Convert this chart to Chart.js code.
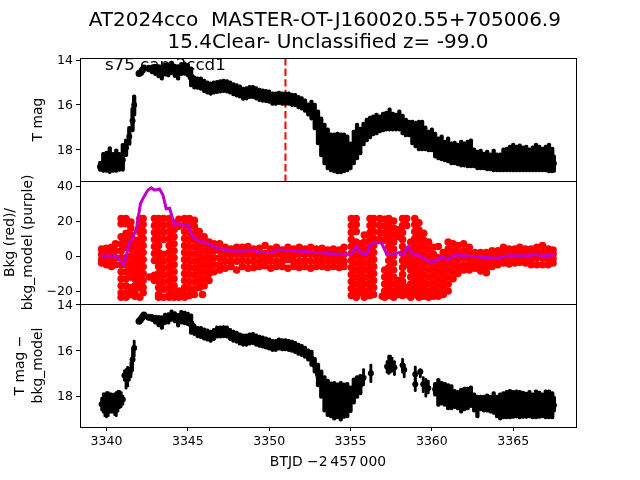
<!DOCTYPE html>
<html>
<head>
<meta charset="utf-8">
<title>AT2024cco</title>
<script src="https://cdn.jsdelivr.net/npm/chart.js@4"></script>
<style>
  html, body { margin: 0; padding: 0; background: #fff; }
  canvas { display: block; }
</style>
</head>
<body>
<canvas id="lc" width="640" height="480"></canvas>
<script>
'use strict';

const titleLines = ['AT2024cco  MASTER-OT-J160020.55+705006.9 ', '15.4Clear- Unclassified z= -99.0'];
const sectorLabel = 's75 cam2ccd1';
const xTitle = 'BTJD \u22122\u2009457\u2009000';
const xTicks = [3340, 3345, 3350, 3355, 3360, 3365];
const magTicks = [14, 16, 18];
const bkgTicks = [40, 20, 0, -20];
const markerTime = [3351, 3351];

// top panel, narrow part of the light curve
const topX = [3342.0, 3342.1, 3342.2, 3342.3, 3342.6, 3342.8, 3343.0, 3343.2, 3343.4, 3343.6, 3343.8, 3344.0, 3344.2, 3344.4, 3344.6, 3344.8, 3345.0, 3345.2, 3345.4, 3345.6, 3345.8, 3346.0, 3346.2, 3346.4, 3346.6, 3346.8, 3347.0, 3347.2, 3347.4, 3347.6, 3347.8, 3348.0, 3348.2, 3348.4, 3348.6, 3348.8, 3349.0, 3349.2, 3349.4, 3349.6, 3349.8, 3350.0, 3350.2, 3350.4, 3350.6, 3350.8, 3351.0, 3351.2, 3351.4, 3351.6, 3351.8, 3352.0, 3352.2, 3352.4];
const topMag = [14.6, 14.55, 14.45, 14.35, 14.38, 14.42, 14.45, 14.5, 14.55, 14.42, 14.45, 14.35, 14.48, 14.55, 14.4, 14.38, 14.45, 14.75, 15.0, 15.03, 15.05, 15.15, 15.22, 15.27, 15.22, 15.2, 15.17, 15.15, 15.17, 15.22, 15.3, 15.35, 15.4, 15.5, 15.48, 15.42, 15.42, 15.48, 15.55, 15.58, 15.6, 15.63, 15.72, 15.72, 15.68, 15.72, 15.72, 15.72, 15.77, 15.78, 15.87, 15.93, 16.03, 16.2];
const topErr = [0.1, 0.1, 0.1, 0.1, 0.15, 0.2, 0.25, 0.3, 0.35, 0.3, 0.3, 0.3, 0.3, 0.35, 0.3, 0.3, 0.3, 0.45, 0.3, 0.28, 0.3, 0.3, 0.3, 0.3, 0.3, 0.3, 0.3, 0.3, 0.3, 0.3, 0.3, 0.3, 0.3, 0.3, 0.3, 0.3, 0.3, 0.3, 0.3, 0.3, 0.3, 0.3, 0.3, 0.3, 0.3, 0.3, 0.3, 0.3, 0.3, 0.3, 0.3, 0.3, 0.3, 0.3];

// top panel, noisy parts: value, bright end and faint end of the error bar
const topNoisyX = [3339.6, 3339.8, 3340.0, 3340.2, 3340.4, 3340.6, 3340.8, 3341.0, 3341.2, 3341.4, 3341.6, 3341.7, 3352.6, 3352.8, 3353.0, 3353.2, 3353.4, 3353.6, 3353.8, 3354.0, 3354.2, 3354.4, 3354.6, 3354.8, 3355.0, 3355.2, 3355.4, 3355.6, 3355.8, 3356.0, 3356.2, 3356.4, 3356.6, 3356.8, 3357.0, 3357.2, 3357.4, 3357.6, 3357.8, 3358.0, 3358.2, 3358.4, 3358.6, 3358.8, 3359.0, 3359.2, 3359.4, 3359.6, 3359.8, 3360.0, 3360.2, 3360.4, 3360.6, 3360.8, 3361.0, 3361.2, 3361.4, 3361.6, 3361.8, 3362.0, 3362.2, 3362.4, 3362.6, 3362.8, 3363.0, 3363.2, 3363.4, 3363.6, 3363.8, 3364.0, 3364.2, 3364.4, 3364.6, 3364.8, 3365.0, 3365.2, 3365.4, 3365.6, 3365.8, 3366.0, 3366.2, 3366.4, 3366.6, 3366.8, 3367.0, 3367.2, 3367.4, 3367.5];
const topNoisyMag = [18.75, 18.6, 18.55, 18.5, 18.55, 18.5, 18.55, 18.45, 17.9, 17.4, 16.7, 16.0, 16.2, 16.5, 17.0, 17.4, 17.8, 18.0, 18.1, 18.2, 18.2, 18.2, 18.15, 18.15, 18.2, 18.0, 17.7, 17.6, 17.3, 17.1, 17.0, 16.9, 16.85, 16.85, 16.8, 16.75, 16.7, 16.75, 16.75, 16.75, 16.85, 17.0, 17.05, 17.15, 17.3, 17.4, 17.45, 17.5, 17.55, 17.55, 17.7, 17.9, 17.9, 18.0, 18.0, 18.1, 18.1, 18.15, 18.15, 18.2, 18.2, 18.2, 18.35, 18.4, 18.4, 18.45, 18.45, 18.5, 18.5, 18.5, 18.5, 18.5, 18.5, 18.45, 18.45, 18.5, 18.45, 18.5, 18.5, 18.5, 18.45, 18.45, 18.5, 18.5, 18.45, 18.45, 18.5, 18.6];
const topNoisyUp = [18.5, 18.1, 18.05, 17.85, 18.1, 17.95, 18.1, 17.7, 17.5, 16.95, 16.1, 15.55, 15.78, 15.91, 16.22, 16.53, 16.8, 17.02, 17.24, 17.24, 17.2, 17.24, 17.24, 17.33, 17.64, 17.11, 16.8, 16.98, 16.76, 16.58, 16.49, 16.44, 16.36, 16.44, 16.31, 16.27, 16.13, 16.31, 16.36, 16.22, 16.4, 16.58, 16.67, 16.67, 16.71, 16.67, 16.67, 16.93, 17.11, 17.02, 17.2, 17.42, 17.33, 17.56, 17.42, 17.64, 17.6, 17.69, 17.56, 17.64, 17.56, 17.51, 17.91, 18.0, 17.96, 18.09, 18.0, 18.13, 17.96, 18.13, 18.13, 17.91, 17.87, 17.78, 17.69, 17.78, 17.73, 17.82, 17.78, 17.91, 17.82, 17.69, 17.78, 17.87, 17.78, 17.69, 17.87, 18.22];
const topNoisyDn = [18.95, 19.0, 19.0, 19.05, 19.0, 19.0, 18.95, 18.95, 18.3, 17.8, 17.2, 16.5, 16.67, 17.11, 17.78, 18.31, 18.67, 18.89, 18.98, 19.02, 19.07, 19.07, 19.02, 18.98, 18.89, 18.67, 18.44, 18.22, 17.82, 17.64, 17.51, 17.38, 17.33, 17.24, 17.2, 17.16, 17.16, 17.16, 17.16, 17.16, 17.33, 17.42, 17.42, 17.78, 17.91, 18.04, 18.04, 18.04, 18.09, 18.09, 18.36, 18.44, 18.49, 18.53, 18.58, 18.67, 18.67, 18.71, 18.76, 18.76, 18.8, 18.8, 18.8, 18.89, 18.89, 18.89, 18.93, 18.93, 18.98, 18.98, 18.98, 18.98, 18.98, 18.98, 18.98, 18.98, 18.98, 18.98, 18.98, 18.98, 18.98, 18.98, 18.98, 18.98, 18.98, 19.02, 19.02, 19.0];

// middle panel, background counts, one list of values per time column
const bkgX = [3339.7, 3340.0, 3340.3, 3340.55, 3340.9, 3341.2, 3341.5, 3341.75, 3342.05, 3342.25, 3342.65, 3342.95, 3343.2, 3343.5, 3343.85, 3344.15, 3344.45, 3344.8, 3345.1, 3345.4, 3345.7, 3345.9, 3346.0, 3346.3, 3346.6, 3346.95,
  3347.3, 3347.65, 3348.0, 3348.35, 3348.7, 3349.05, 3349.4, 3349.75, 3350.1, 3350.45, 3350.8, 3351.15, 3351.5, 3351.85, 3352.2, 3352.55, 3352.9, 3353.25, 3353.6, 3353.95, 3354.3, 3354.6,
  3355.05, 3355.35, 3355.65, 3355.85, 3356.2, 3356.42, 3356.8, 3356.95, 3357.1, 3357.35, 3357.65, 3357.95, 3358.2, 3358.45, 3358.7, 3358.95, 3359.2, 3359.5, 3359.8, 3360.1, 3360.4, 3360.7, 3361.0, 3361.3, 3361.6, 3361.95,
  3362.3, 3362.65, 3363.0, 3363.35, 3363.7, 3364.05, 3364.4, 3364.75, 3365.1, 3365.4, 3365.75, 3366.1, 3366.45, 3366.8, 3367.15, 3367.45];
const bkgY = [
  [4, 1, -2, -4], [4.5, 1, -2, -5], [5, 2, -1, -4, -6], [7, 3, -1, -5],
  [21.5, 18.5, 11, 7, 3, -1, -5, -9, -13, -17, -21, -23.5],
  [21.5, 18.5, 13, 9, 5, -1, -5, -9, -13, -17, -21, -23.5],
  [19.5, 16, 12, 8, 4, 0, -4, -8, -12, -18, -22],
  [9, 6, 3, -1, -5, -9, -13, -17, -21, -23],
  [21.5, 17.5, 13.5, 9.5, 5.5, 1.5, -2.5, -6.5, -10.5, -14.5, -18, -23.5],
  [21.5, 18, 14, 10, 6, 2, -2, -6, -10, -14, -18, -21],
  [-12],
  [21.5, 17.5, 13.5, 9.5, 5.5, 1.5, -2.5, -11, -14],
  [21.5, 18, 14, 10, 6, 2, -2, -6, -10, -14, -18, -22, -23.5],
  [21.5, 17.5, 13.5, 9.5, 1, -3, -7, -11, -15, -19, -23.5],
  [21.5, 18, 14, 10, 6, 2, -2, -6, -10, -14, -18, -22, -23.5],
  [19, 15, 11, 7, 3, -1, -5, -9, -13, -17, -21, -23.5],
  [21, 17, -20, -23.5],
  [21.5, 18, 14, 10, 6, 2, -2, -6, -10, -14, -18, -22, -23.5],
  [21.5, 17.5, 13.5, 9.5, 5.5, 1.5, -2.5, -6.5, -10.5, -14.5, -18.5, -22.5],
  [20.5, 17, 13, 9, 5, 1, -3, -7, -11, -15, -19, -22],
  [14, 10, 6, 2, -2, -6, -10, -14, -18],
  [-22],
  [11, 7, 3, -1, -5, -9, -13, -17],
  [8, 5, 2, -2, -6, -10, -14],
  [7, 3, -1, -5, -9],
  [7, 3, -1, -5, -8],
  [5, 1, -3, -7], [4, 0.5, -3, -6], [5, 1, -3, -8], [5, 1.5, -2, -6], [5.5, 1, -3, -7], [4, 0.5, -3, -6.5], [4.5, 1, -2.5, -6], [6, 1.5, -2, -5.5], [4, 0.5, -3, -7], [5, 1, -3, -6], [3.5, 0.5, -3, -6], [5, 1.5, -2, -7], [4, 0.5, -3, -6], [5, 1, -3, -6.5], [4, 1, -2.5, -6], [5, 1, -3, -7], [4, 0.5, -3, -6], [4.5, 1, -2.5, -6], [3.5, 0.5, -3, -6.5], [4, 1, -2.5, -6], [3.5, 0, -3, -6.5], [5, 1, -3, -6],
  [21.5, 17.5, 13.5, 9.5, 5.5, 1.5, -2.5, -6.5, -10.5, -14.5, -18.5, -22.5],
  [21.5, 18, 14, 8, 4, 0, -4, -8, -12, -16, -20, -23.5],
  [7, 3, -1, -5, -9, -13, -17, -21],
  [12, 8, 4, 0, -4, -8, -12, -16, -20, -23.5],
  [21.5, 17.5, 13.5, 9.5, 5.5, 1.5, -2.5, -6.5, -10.5, -14.5, -18.5, -22.5],
  [21.5, 18, 14, 10, 6, 2, -2, -6, -10, -14, -18, -22],
  [21.5, 17.5, 13.5, 9.5],
  [-23],
  [21, 17, 13, 9, -8, -12, -16, -20, -23.5],
  [21.5, 17.5, 13.5, 9.5, 5.5, 1.5, -2.5, -6.5, -10.5, -14.5, -18.5, -22.5],
  [20, 16, 12, 8, 4, 0, -4, -8, -12, -16, -20, -23.5],
  [15, 11, -14, -18, -22],
  [21.5, 17.5, 13.5, 9.5, 5.5, 1.5, -2.5, -6.5, -10.5, -14.5, -18.5, -22.5],
  [21.5, 17.5, 3, -1, -5, -18, -22],
  [8, 4, 0, -4, -8, -12, -16, -20, -23.5],
  [21.5, 18, 14, 10, 6, 2, -2, -6, -10, -14, -18, -22],
  [19, 15, 11, 7, 3, -1, -5, -9, -13, -17, -21, -23.5],
  [13, 9, 5, 1, -3, -7, -11, -15, -19, -23],
  [8, 4, 0, -4, -8, -12, -16, -20, -23.5],
  [5, 1, -3, -7, -11, -15, -19, -23],
  [5.5, -1, -5, -9, -13, -17, -21, -23],
  [2, -2, -6, -10, -14, -18, -22],
  [8, 4, 0, -4, -8, -12, -16, -20],
  [7, 3, -1, -5, -9, -13],
  [6, 2, -2, -6, -10],
  [7, 3, -1, -5, -8],
  [5, 1.5, -2, -5.5, -8], [2, -1, -4, -7], [2, -1, -4, -7, -8.5], [2, -1, -4, -7, -9.5], [3, 0, -3, -6], [3, 0, -3, -5], [5, 2, -1, -4], [4, 1, -2, -4.5], [4, 1, -2, -4], [5, 2, -1, -3.5], [4, 1, -2, -4], [4, 1, -2, -5], [5, 2, -1, -5], [6, 2, -1, -5], [4, 1, -2, -5], [3.5, 1, -1.5, -4]
];

// middle panel, background model
const modelX = [3339.69, 3340.6, 3340.86, 3341.05, 3341.22, 3341.43, 3341.6, 3341.84, 3342.09, 3342.25, 3342.55, 3342.75, 3342.95, 3343.26, 3343.47, 3343.67, 3343.88, 3344.18, 3344.39, 3344.69, 3345.0, 3345.3, 3345.71, 3346.33, 3346.74, 3347.76, 3348.38, 3348.99, 3349.4, 3350.2, 3350.45, 3351.9, 3352.7, 3353.11, 3354.13, 3355.06, 3355.36, 3355.67, 3356.0, 3356.2, 3356.49, 3356.9, 3357.21, 3357.52, 3358.03, 3358.23, 3358.54, 3358.85, 3359.15, 3359.77, 3360.18, 3360.59, 3361.0, 3361.41, 3362.74, 3363.97, 3364.69, 3366.0, 3366.43, 3366.74, 3367.55];
const modelY = [0, 0, -3.2, -5, 0.6, 8.2, 10, 15.8, 30, 33, 37.7, 39, 37.7, 38.3, 34.9, 27, 27.3, 17.7, 18.7, 17.7, 17.7, 11, 8.6, 6.7, 4.8, 2.9, 2.9, 3.4, 2.1, 2.1, 3.4, 2.9, 2.1, 2.1, 1, 1, 5.3, 1.5, 1, 6.3, 7.6, 7.6, 1.5, 0.6, 2.1, 0.6, 5.3, 0.6, 0.6, -2.8, -3.2, -0.4, -1.9, 0.6, -0.4, -1.3, 0.2, 0.2, 1, 0, 0.6];

// bottom panel, narrow part
const botX = [3342.0, 3342.1, 3342.2, 3342.3, 3342.6, 3342.8, 3343.0, 3343.2, 3343.4, 3343.6, 3343.8, 3344.0, 3344.2, 3344.4, 3344.6, 3344.8, 3345.0, 3345.2, 3345.4, 3345.6, 3345.8, 3346.0, 3346.2, 3346.4, 3346.6, 3346.8, 3347.0, 3347.2, 3347.4, 3347.6, 3347.8, 3348.0, 3348.2, 3348.4, 3348.6, 3348.8, 3349.0, 3349.2, 3349.4, 3349.6, 3349.8, 3350.0, 3350.2, 3350.4, 3350.6, 3350.8, 3351.0, 3351.2, 3351.4, 3351.6, 3351.8, 3352.0, 3352.2, 3352.4];
const botMag = [14.72, 14.65, 14.55, 14.45, 14.55, 14.58, 14.65, 14.72, 14.78, 14.62, 14.6, 14.48, 14.55, 14.68, 14.55, 14.58, 14.62, 14.85, 15.1, 15.2, 15.22, 15.28, 15.33, 15.38, 15.3, 15.2, 15.2, 15.18, 15.2, 15.3, 15.38, 15.42, 15.5, 15.55, 15.55, 15.5, 15.48, 15.55, 15.6, 15.63, 15.68, 15.72, 15.78, 15.78, 15.72, 15.75, 15.75, 15.78, 15.82, 15.87, 15.95, 16.0, 16.08, 16.2];
const botErr = [0.1, 0.1, 0.1, 0.1, 0.12, 0.15, 0.2, 0.25, 0.3, 0.25, 0.25, 0.25, 0.25, 0.3, 0.3, 0.3, 0.3, 0.45, 0.25, 0.25, 0.27, 0.27, 0.27, 0.27, 0.27, 0.27, 0.27, 0.27, 0.27, 0.27, 0.27, 0.27, 0.27, 0.27, 0.27, 0.27, 0.27, 0.27, 0.27, 0.27, 0.27, 0.27, 0.27, 0.27, 0.27, 0.27, 0.27, 0.27, 0.27, 0.27, 0.27, 0.27, 0.27, 0.27];

// bottom panel, sparse clumps with thin error bars
const botSparseX = [3339.7, 3339.8, 3339.9, 3340.0, 3340.1, 3340.2, 3340.3, 3340.4, 3340.5, 3340.6, 3340.7, 3340.8, 3340.9, 3341.0, 3341.1, 3341.2, 3341.3, 3341.4, 3341.5, 3341.6, 3341.7, 3355.8, 3356.25, 3357.25, 3357.35, 3357.45, 3357.55, 3357.7, 3358.2, 3358.3, 3358.98, 3358.98, 3359.29, 3359.47, 3359.63, 3359.78];
const botSparseMag = [18.35, 18.3, 18.3, 18.35, 18.3, 18.3, 18.25, 18.25, 18.3, 18.25, 18.2, 18.15, 18.15, 18.15, 17.1, 17.2, 17.1, 17.0, 16.85, 16.4, 15.9, 17.2, 17.0, 16.7, 16.6, 16.6, 16.65, 16.75, 16.65, 16.85, 17.04, 17.48, 16.93, 17.48, 17.58, 17.65];
const botSparseUp = [18.05, 17.85, 17.85, 17.8, 17.8, 17.85, 17.85, 17.9, 17.85, 17.8, 17.75, 17.75, 17.8, 17.95, 16.85, 16.8, 16.7, 16.75, 16.5, 15.9, 15.55, 16.8, 16.6, 16.45, 16.2, 16.2, 16.3, 16.45, 16.35, 16.6, 16.69, 17.2, 16.8, 17.15, 17.22, 17.3];
const botSparseDn = [18.65, 18.75, 18.9, 18.95, 18.9, 18.75, 18.75, 18.75, 18.85, 18.9, 18.7, 18.55, 18.5, 18.4, 17.35, 17.7, 17.6, 17.35, 17.2, 16.9, 16.3, 17.55, 17.41, 17.0, 17.05, 17.0, 16.95, 17.1, 17.0, 17.2, 17.4, 17.8, 17.2, 17.85, 18.05, 17.9];

// bottom panel, dense noisy part
const botNoisyX = [3352.6, 3352.8, 3353.0, 3353.2, 3353.4, 3353.6, 3353.8, 3354.0, 3354.2, 3354.4, 3354.6, 3354.8, 3355.0, 3355.2, 3355.4, 3355.6, 3360.2, 3360.4, 3360.6, 3360.8, 3361.0, 3361.2, 3361.4, 3361.6, 3361.8, 3362.0, 3362.2, 3362.4, 3362.6, 3362.8, 3363.0, 3363.2, 3363.4, 3363.6, 3363.8, 3364.0, 3364.2, 3364.4, 3364.6, 3364.8, 3365.0, 3365.2, 3365.4, 3365.6, 3365.8, 3366.0, 3366.2, 3366.4, 3366.6, 3366.8, 3367.0, 3367.2, 3367.4, 3367.5];
const botNoisyMag = [16.35, 16.65, 17.05, 17.45, 17.9, 18.1, 18.2, 18.2, 18.2, 18.25, 18.2, 18.2, 18.15, 17.8, 17.6, 17.5, 17.7, 17.75, 17.8, 17.85, 17.9, 17.95, 18.0, 18.0, 17.95, 18.0, 17.95, 17.95, 18.2, 18.35, 18.25, 18.3, 18.25, 18.35, 18.3, 18.4, 18.4, 18.4, 18.35, 18.35, 18.4, 18.35, 18.4, 18.35, 18.4, 18.35, 18.4, 18.35, 18.4, 18.35, 18.35, 18.4, 18.35, 18.4];
const botNoisyUp = [15.99, 16.3, 16.55, 16.85, 17.1, 17.25, 17.37, 17.35, 17.42, 17.35, 17.42, 17.4, 17.55, 17.2, 17.1, 17.05, 17.4, 17.22, 17.35, 17.4, 17.45, 17.5, 17.7, 17.75, 17.65, 17.6, 17.6, 17.55, 17.85, 17.95, 17.95, 17.95, 17.9, 17.95, 17.8, 17.95, 17.85, 17.8, 17.75, 17.7, 17.75, 17.72, 17.75, 17.78, 17.82, 17.75, 17.85, 17.72, 17.78, 17.85, 17.72, 17.72, 17.8, 18.0];
const botNoisyDn = [16.7, 17.0, 17.6, 18.1, 18.7, 18.9, 18.95, 19.05, 19.0, 19.1, 18.98, 18.95, 18.72, 18.35, 18.1, 17.95, 18.0, 18.45, 18.4, 18.45, 18.6, 18.6, 18.55, 18.6, 18.75, 18.65, 18.6, 18.5, 18.7, 18.95, 18.65, 18.7, 18.7, 18.75, 18.8, 18.95, 19.05, 19.0, 19.0, 19.0, 18.98, 18.95, 19.0, 18.98, 18.98, 18.95, 19.0, 19.0, 18.98, 18.95, 19.0, 19.0, 19.0, 18.7];

const FONT = "'DejaVu Sans', sans-serif";

const points = (xs, ys) => xs.map((x, i) => ({ x: x, y: ys[i] }));
const spans = (xs, lows, highs) => xs.map((x, i) => ({ x: x, y: [lows[i], highs[i]] }));
const bkgPoints = bkgX.flatMap((x, i) => bkgY[i].map(y => ({ x: x, y: y })));

function marks(yAxisID, data, radius, color) {
  return { type: 'scatter', yAxisID, data, showLine: false, pointRadius: radius, pointBorderWidth: 0, pointHoverRadius: radius, pointBackgroundColor: color };
}
function errBars(yAxisID, data, thickness) {
  return { type: 'bar', yAxisID, data, barThickness: thickness, grouped: false, backgroundColor: '#000', borderWidth: 0, borderSkipped: false, borderRadius: 1.8 };
}

function yAxis(range, tickValues, title, titlePad, reverse) {
  return {
    type: 'linear', position: 'left', stack: 'panels', stackWeight: 1,
    min: range[0], max: range[1], reverse: reverse,
    afterBuildTicks: s => { s.ticks = tickValues.map(v => ({ value: v })); },
    afterFit: s => { s.width = 80; },
    grid: { drawOnChartArea: false, tickLength: 4, tickColor: '#000', tickWidth: 1 },
    border: { display: false },
    ticks: {
      color: '#000', padding: 3, labelOffset: 1, font: { family: FONT, size: 12.5 },
      callback: v => String(v).replace('-', '\u2212')
    },
    title: { display: true, text: title, color: '#000', font: { family: FONT, size: 13.9, lineHeight: 1.27 }, padding: { top: titlePad, bottom: 0 } }
  };
}

// panel outlines and the sector label, not part of any dataset
const panelFrames = {
  id: 'panelFrames',
  beforeDatasetsDraw(chart) {
    const c = chart.ctx;
    c.save();
    c.fillStyle = '#000';
    c.font = '16.67px ' + FONT;
    c.textBaseline = 'alphabetic';
    c.fillText(sectorLabel, chart.scales.x.getPixelForValue(3339.9), chart.scales.yTop.getPixelForValue(14.45));
    c.restore();
  },
  afterDraw(chart) {
    const c = chart.ctx, x = chart.scales.x;
    c.save();
    c.strokeStyle = '#000';
    c.lineWidth = 1;
    ['yTop', 'yMid', 'yBot'].forEach(id => {
      const s = chart.scales[id];
      c.strokeRect(Math.round(x.left) + 0.5, Math.round(s.top) + 0.5, Math.round(x.right - x.left), Math.round(s.bottom - s.top));
    });
    c.restore();
  }
};

new Chart(document.getElementById('lc'), {
  type: 'scatter',
  data: {
    datasets: [
      marks('yTop', points(topX, topMag), 3.5, '#000'),
      marks('yTop', points(topNoisyX, topNoisyMag), 3, '#000'),
      errBars('yTop', spans(topX, topMag.map((m, i) => m - topErr[i]), topMag.map((m, i) => m + topErr[i])), 3.6),
      errBars('yTop', spans(topNoisyX, topNoisyUp, topNoisyDn), 3.6),
      {
        type: 'line', yAxisID: 'yTop', data: [{ x: markerTime[0], y: 13.91 }, { x: markerTime[1], y: 19.38 }],
        borderColor: '#ff0000', borderWidth: 2, borderDash: [7.4, 3.2], pointRadius: 0
      },
      {
        type: 'line', yAxisID: 'yMid', data: points(modelX, modelY),
        borderColor: '#bf00c8', borderWidth: 3, pointRadius: 0, tension: 0
      },
      marks('yMid', bkgPoints, 3.8, '#ff0000'),
      marks('yBot', points(botX, botMag), 3.5, '#000'),
      marks('yBot', points(botSparseX, botSparseMag), 3, '#000'),
      marks('yBot', points(botNoisyX, botNoisyMag), 3, '#000'),
      errBars('yBot', spans(botX, botMag.map((m, i) => m - botErr[i]), botMag.map((m, i) => m + botErr[i])), 3.6),
      errBars('yBot', spans(botSparseX, botSparseUp, botSparseDn), 2.2),
      errBars('yBot', spans(botNoisyX, botNoisyUp, botNoisyDn), 3.6)
    ]
  },
  options: {
    responsive: false,
    animation: false,
    events: [],
    layout: { padding: { left: 0, right: 64, top: 0, bottom: 0 } },
    plugins: {
      legend: { display: false },
      tooltip: { enabled: false },
      title: {
        display: true, fullSize: false, text: titleLines, color: '#000',
        font: { family: FONT, size: 20, weight: 'normal', lineHeight: 1.1 },
        padding: { top: 10, bottom: 4 }
      }
    },
    scales: {
      x: {
        type: 'linear', position: 'bottom', min: 3338.37, max: 3368.86, offset: false,
        afterBuildTicks: s => { s.ticks = xTicks.map(v => ({ value: v })); },
        afterFit: s => { s.height = 53; },
        grid: { offset: false, drawOnChartArea: false, tickLength: 4, tickColor: '#000', tickWidth: 1 },
        border: { display: false },
        ticks: { color: '#000', padding: 3, maxRotation: 0, font: { family: FONT, size: 12.5 }, callback: v => String(v) },
        title: { display: true, text: xTitle, color: '#000', font: { family: FONT, size: 13.9 }, padding: { top: 0, bottom: 9 } }
      },
      // stacked axes fill from the bottom up, so the lowest panel comes first
      yBot: yAxis([13.97, 19.35], magTicks, ['T mag \u2212', 'bkg_model'], 12, true),
      yMid: yAxis([-27.4, 42.9], bkgTicks, ['Bkg (red)/', 'bkg_model (purple)'], 1.5, false),
      yTop: yAxis([13.91, 19.38], magTicks, 'T mag', 30, true)
    }
  },
  plugins: [panelFrames]
});
</script>
</body>
</html>
